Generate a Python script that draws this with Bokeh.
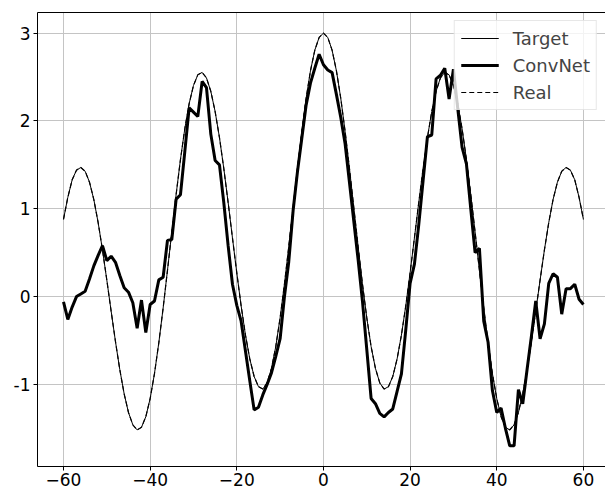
from bokeh.plotting import figure
from bokeh.models import Range1d, LinearAxis, FixedTicker
from bokeh.embed import file_html
from bokeh.resources import INLINE

x_vals = list(range(-60, 61))

target_y = [
    0.880, 1.130, 1.330, 1.440, 1.470, 1.427, 1.303, 1.105, 0.842, 0.531,
    0.188, -0.167, -0.514, -0.833, -1.107, -1.320, -1.460, -1.518, -1.489, -1.368,
    -1.162, -0.877, -0.527, -0.130, 0.299, 0.736, 1.164, 1.562, 1.911, 2.196,
    2.404, 2.525, 2.553, 2.490, 2.338, 2.107, 1.811, 1.459, 1.072, 0.669,
    0.270, -0.106, -0.438, -0.710, -0.910, -1.026, -1.053, -0.983, -0.818, -0.569,
    -0.241, 0.145, 0.572, 1.017, 1.461, 1.881, 2.257, 2.570, 2.805, 2.951,
    3.000,
    2.951, 2.805, 2.570, 2.257, 1.881, 1.461, 1.017, 0.572, 0.145, -0.241,
    -0.569, -0.818, -0.983, -1.053, -1.026, -0.910, -0.710, -0.438, -0.106, 0.270,
    0.669, 1.072, 1.459, 1.811, 2.107, 2.338, 2.490, 2.553, 2.525, 2.404,
    2.196, 1.911, 1.562, 1.164, 0.736, 0.299, -0.130, -0.527, -0.877, -1.162,
    -1.368, -1.489, -1.518, -1.460, -1.320, -1.107, -0.833, -0.514, -0.167, 0.188,
    0.531, 0.842, 1.105, 1.303, 1.427, 1.470, 1.440, 1.330, 1.130, 0.880,
]

convnet_y = [
    -0.06, -0.26, -0.12, 0.00, 0.03, 0.06, 0.20, 0.35, 0.47, 0.58,
    0.41, 0.46, 0.39, 0.24, 0.10, 0.05, -0.07, -0.36, -0.04, -0.41,
    -0.09, -0.05, 0.19, 0.22, 0.64, 0.65, 1.11, 1.16, 1.65, 2.15,
    2.10, 2.05, 2.45, 2.38, 1.85, 1.55, 1.50, 1.07, 0.58, 0.14,
    -0.10, -0.28, -0.62, -0.96, -1.29, -1.26, -1.12, -1.00, -0.87, -0.68,
    -0.48, 0.00, 0.40, 0.98, 1.42, 1.80, 2.18, 2.43, 2.60, 2.76,
    2.64,
    2.58, 2.55, 2.30, 2.04, 1.74, 1.30, 0.86, 0.42, -0.05, -0.60,
    -1.16, -1.22, -1.33, -1.37, -1.32, -1.28, -1.08, -0.88, -0.38, 0.15,
    0.37, 0.82, 1.32, 1.82, 1.84, 2.48, 2.52, 2.60, 2.25, 2.59,
    2.14, 1.70, 1.51, 1.00, 0.50, 0.55, -0.28, -0.52, -1.07, -1.32,
    -1.27, -1.50, -1.70, -1.70, -1.06, -1.22, -0.83, -0.45, -0.05, -0.48,
    -0.31, 0.15, 0.26, 0.22, -0.20, 0.09, 0.09, 0.14, -0.03, -0.09,
]

real_y = list(target_y)

x_ticks = [-60, -40, -20, 0, 20, 40, 60]
x_tick_labels = ["\u221260", "\u221240", "\u221220", "0", "20", "40", "60"]
y_ticks = [-1, 0, 1, 2, 3]
y_tick_labels = ["-1", "0", "1", "2", "3"]

FONT = "DejaVu Sans"

p = figure(width=605, height=488, output_backend="svg", toolbar_location=None,
           x_range=Range1d(-66, 65.1), y_range=Range1d(-1.935, 3.235),
           min_border_left=37, min_border_right=0, min_border_top=12,
           min_border_bottom=0)
p.outline_line_color = None
p.background_fill_color = "white"
p.border_fill_color = "white"

p.line(x_vals, target_y, line_color="black", line_width=1, legend_label="Target")
p.line(x_vals, convnet_y, line_color="black", line_width=3, legend_label="ConvNet")
p.line(x_vals, real_y, line_color="black", line_width=1.2, line_dash="5 3",
       legend_label="Real")

p.xaxis.ticker = FixedTicker(ticks=x_ticks)
p.yaxis.ticker = FixedTicker(ticks=y_ticks)
p.xaxis.major_label_overrides = {t: l for t, l in zip(x_ticks, x_tick_labels)}
p.yaxis.major_label_overrides = {t: l for t, l in zip(y_ticks, y_tick_labels)}

for ax in (p.xaxis[0], p.yaxis[0]):
    ax.axis_line_color = "black"
    ax.axis_line_width = 1
    ax.major_tick_line_color = "black"
    ax.major_tick_out = 4
    ax.major_tick_in = 0
    ax.minor_tick_line_color = None
    ax.major_label_text_font = FONT
    ax.major_label_text_font_size = "17px"
    ax.major_label_text_color = "black"
p.xaxis.major_label_standoff = 2
p.yaxis.major_label_standoff = 3

top_axis = LinearAxis(ticker=FixedTicker(ticks=[]), axis_line_color="black",
                      axis_line_width=1, major_tick_line_color=None,
                      minor_tick_line_color=None, major_label_text_font_size="0px")
p.add_layout(top_axis, "above")

p.xgrid.grid_line_color = "#c4c4c4"
p.ygrid.grid_line_color = "#c4c4c4"
p.xgrid.grid_line_width = 1
p.ygrid.grid_line_width = 1

lg = p.legend[0]
lg.location = "top_right"
lg.margin = 8
lg.label_text_font = FONT
lg.label_text_font_size = "18px"
lg.glyph_width = 38
lg.glyph_height = 22
lg.label_standoff = 14
lg.spacing = 5
lg.padding = 6
lg.border_line_color = "#d0d0d0"
lg.background_fill_alpha = 0.8

open("out.html", "w").write(file_html(p, INLINE))
